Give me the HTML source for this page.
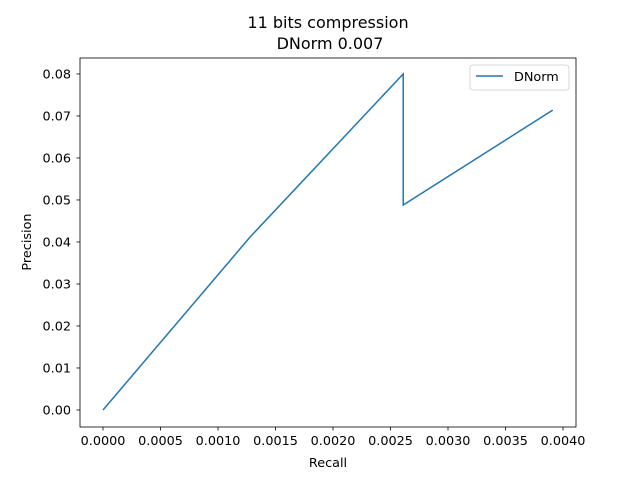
<!DOCTYPE html>
<html><head><meta charset="utf-8"><style>
body{margin:0;background:#fff;}
svg{display:block;font-family:"DejaVu Sans","Liberation Sans",sans-serif;}
</style></head><body>
<svg id="chart" width="640" height="480"></svg>
<script>
const recall=[0,0.00128,0.00261,0.00261,0.00391];
const precision=[0,0.0412,0.0800,0.0488,0.0714];
const xTicks=[0,0.0005,0.0010,0.0015,0.0020,0.0025,0.0030,0.0035,0.0040];
const xTickLabels=["0.0000","0.0005","0.0010","0.0015","0.0020","0.0025","0.0030","0.0035","0.0040"];
const yTicks=[0,0.01,0.02,0.03,0.04,0.05,0.06,0.07,0.08];
const yTickLabels=["0.00","0.01","0.02","0.03","0.04","0.05","0.06","0.07","0.08"];
const L=80,R=576,T=58,B=427;
const xmin=-0.0002,xmax=0.0041130,ymin=-0.00405,ymax=0.0838;
const sx=v=>L+(v-xmin)/(xmax-xmin)*(R-L);
const sy=v=>B-(v-ymin)/(ymax-ymin)*(B-T);
const svg=document.getElementById('chart');
const NS='http://www.w3.org/2000/svg';
function mk(tag,attrs,text){const e=document.createElementNS(NS,tag);for(const k in attrs)e.setAttribute(k,attrs[k]);if(text!==undefined)e.textContent=text;svg.appendChild(e);return e;}
let e;
e=mk('rect',{x:L,y:T,width:R-L,height:B-T,fill:'none',stroke:'#000','stroke-width':0.8});


xTicks.forEach((t,i)=>{const x=sx(t);
e=mk('line',{x1:x,x2:x,y1:B,y2:B+3.5,stroke:'#000','stroke-width':0.8});


e=mk('text',{x:x,y:B+18,'font-size':12.8,'text-anchor':'middle'},xTickLabels[i]);

});
yTicks.forEach((t,i)=>{const y=sy(t);
e=mk('line',{x1:L-3.5,x2:L,y1:y,y2:y,stroke:'#000','stroke-width':0.8});


e=mk('text',{x:L-9,y:y+4.5,'font-size':12.8,'text-anchor':'end'},yTickLabels[i]);

});
const pts=recall.map((r,i)=>sx(r).toFixed(1)+','+sy(precision[i]).toFixed(1)).join(' ');
e=mk('polyline',{points:pts,fill:'none',stroke:'#1f77b4','stroke-width':1.5});


e=mk('text',{x:328,y:467,'font-size':12.8,'text-anchor':'middle'},'Recall');


e=mk('text',{x:31,y:242,'font-size':12.8,'text-anchor':'middle',transform:'rotate(-90 31 242)'},'Precision');


e=mk('text',{x:328,y:28,'font-size':16,'text-anchor':'middle'},'11 bits compression');


e=mk('text',{x:330,y:49,'font-size':16,'text-anchor':'middle'},'DNorm 0.007');


e=mk('rect',{x:470,y:65,width:99,height:25,rx:3,fill:'#fff',stroke:'#ccc','stroke-width':0.8});


e=mk('line',{x1:476,x2:503,y1:76,y2:76,stroke:'#1f77b4','stroke-width':1.5});


e=mk('text',{x:514,y:81,'font-size':12.8},'DNorm');


</script>
</body></html>
